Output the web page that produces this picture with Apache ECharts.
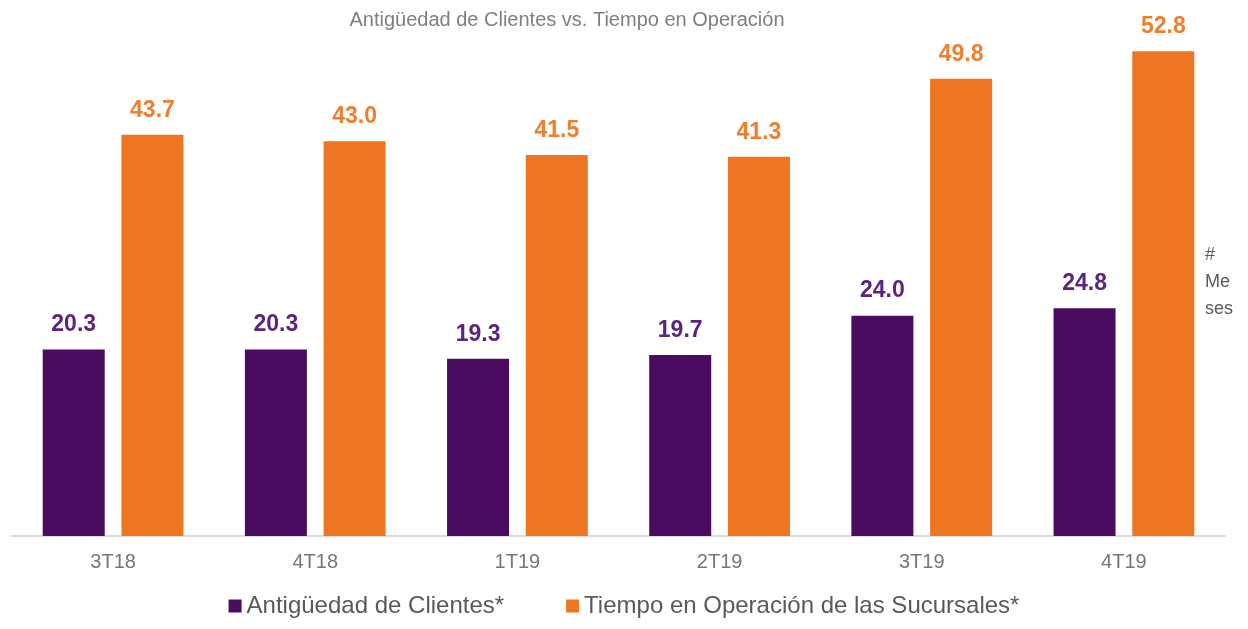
<!DOCTYPE html>
<html>
<head>
<meta charset="utf-8">
<script src="https://cdn.jsdelivr.net/npm/echarts@6/dist/echarts.min.js"></script>
<style>
  html, body { margin: 0; padding: 0; background: #fff; }
  #chart { width: 1248px; height: 629px; }
</style>
</head>
<body>
<div id="chart"></div>
<script>
// data
var categories = ['3T18', '4T18', '1T19', '2T19', '3T19', '4T19'];
var antiguedadClientes = [20.3, 20.3, 19.3, 19.7, 24.0, 24.8];
var tiempoOperacion = [43.7, 43.0, 41.5, 41.3, 49.8, 52.8];
var seriesNames = ['Antigüedad de Clientes*', 'Tiempo en Operación de las Sucursales*'];

var myChart = echarts.init(document.getElementById('chart'));

var fontFamily = 'Arial, "Liberation Sans", sans-serif';

option = {
    animation: false,
    textStyle: { fontFamily: fontFamily },
    title: {
        text: 'Antigüedad de Clientes vs. Tiempo en Operación',
        left: 562,
        textAlign: 'center',
        top: 5,
        textStyle: { fontSize: 20, fontWeight: 'normal', color: '#7f7f7f', fontFamily: fontFamily }
    },
    legend: {
        data: seriesNames,
        bottom: 6,
        left: 'center',
        icon: 'rect',
        itemWidth: 13,
        itemHeight: 13,
        itemGap: 62,
        textStyle: { fontSize: 24, color: '#595959', fontFamily: fontFamily }
    },
    grid: { left: 12, right: 23, top: 31, bottom: 93, containLabel: false },
    xAxis: {
        type: 'category',
        data: categories,
        axisLine: { lineStyle: { color: '#d9d9d9', width: 2 } },
        axisTick: { show: false },
        axisLabel: { fontSize: 20, color: '#767676', margin: 16, fontFamily: fontFamily }
    },
    yAxis: {
        type: 'value',
        min: 0,
        max: 55,
        show: false,
        splitLine: { show: false }
    },
    graphic: [{
        type: 'text',
        left: 1205,
        top: 242,
        style: {
            text: '#\nMe\nses',
            font: '18px Arial, "Liberation Sans", sans-serif',
            fill: '#595959',
            lineHeight: 27
        }
    }],
    series: [{
        name: seriesNames[0],
        type: 'bar',
        data: antiguedadClientes,
        barWidth: 62,
        barGap: '27%',
        itemStyle: { color: '#4a0c5e' },
        label: {
            show: true,
            position: 'top',
            distance: 13,
            formatter: function (p) { return p.value.toFixed(1); },
            fontSize: 23,
            fontWeight: 'bold',
            color: '#5b2480',
            fontFamily: fontFamily
        }
    }, {
        name: seriesNames[1],
        type: 'bar',
        data: tiempoOperacion,
        barWidth: 62,
        itemStyle: { color: '#ee7623' },
        label: {
            show: true,
            position: 'top',
            distance: 13,
            formatter: function (p) { return p.value.toFixed(1); },
            fontSize: 23,
            fontWeight: 'bold',
            color: '#f07e2c',
            fontFamily: fontFamily
        }
    }]
};

myChart.setOption(option);
</script>
</body>
</html>
